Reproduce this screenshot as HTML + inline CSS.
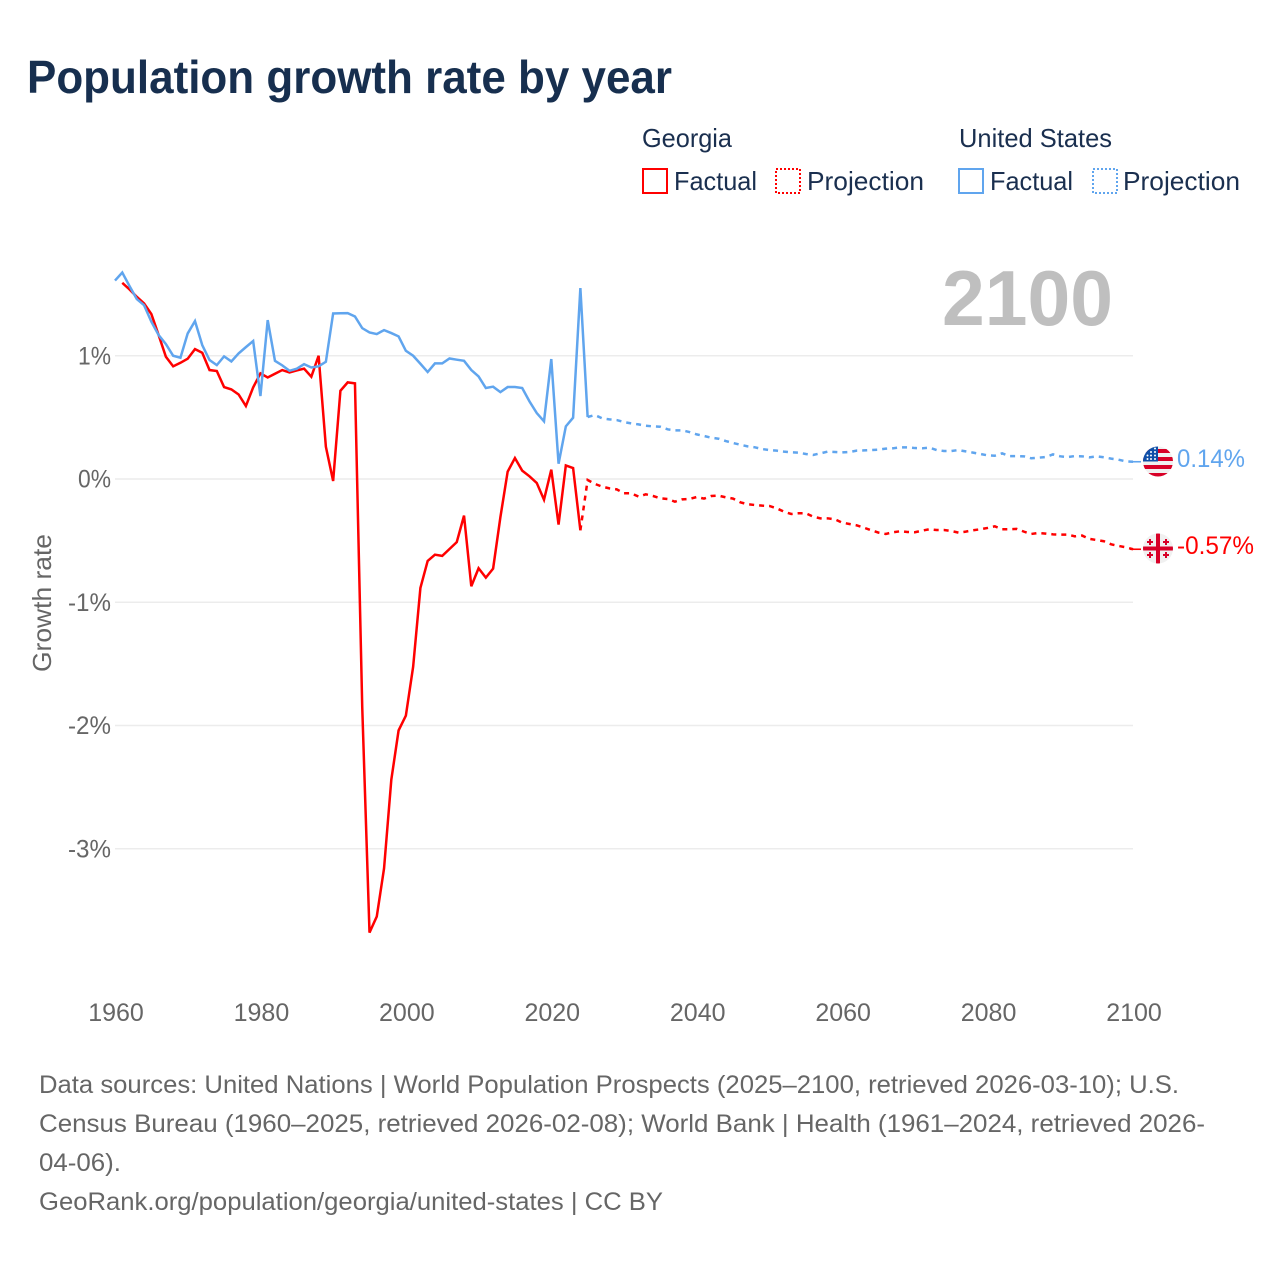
<!DOCTYPE html>
<html lang="en">
<head>
<meta charset="utf-8">
<title>Population growth rate by year</title>
<style>
html,body{margin:0;padding:0;background:#fff;width:1280px;height:1280px;overflow:hidden}
svg{display:block}
text{font-family:"Liberation Sans",sans-serif}
</style>
</head>
<body>
<svg id="chart" width="1280" height="1280" viewBox="0 0 1280 1280" xmlns="http://www.w3.org/2000/svg">
  <text x="27" y="93" font-size="46" font-weight="700" fill="#172f4f" textLength="645" lengthAdjust="spacingAndGlyphs">Population growth rate by year</text>

  <g font-size="26" fill="#1a2f4f">
    <text x="642" y="147" textLength="90" lengthAdjust="spacingAndGlyphs">Georgia</text>
    <text x="959" y="147" textLength="153" lengthAdjust="spacingAndGlyphs">United States</text>
    <rect x="643" y="169" width="24" height="24" fill="none" stroke="#ff0000" stroke-width="2"/>
    <text x="674" y="190" textLength="83" lengthAdjust="spacingAndGlyphs">Factual</text>
    <rect x="776" y="169" width="24" height="24" fill="none" stroke="#ff0000" stroke-width="2" stroke-dasharray="2 2"/>
    <text x="807" y="190" textLength="117" lengthAdjust="spacingAndGlyphs">Projection</text>
    <rect x="959" y="169" width="24" height="24" fill="none" stroke="#60a5ee" stroke-width="2"/>
    <text x="990" y="190" textLength="83" lengthAdjust="spacingAndGlyphs">Factual</text>
    <rect x="1093" y="169" width="24" height="24" fill="none" stroke="#60a5ee" stroke-width="2" stroke-dasharray="2 2"/>
    <text x="1123" y="190" textLength="117" lengthAdjust="spacingAndGlyphs">Projection</text>
  </g>

  <g id="grid"></g>
  <g id="yticks"></g>
  <g id="xticks"></g>

  <text transform="translate(51,672) rotate(-90)" font-size="26" fill="#666666" textLength="138" lengthAdjust="spacingAndGlyphs">Growth rate</text>
  <text x="942" y="325" font-size="78" font-weight="700" fill="#bfbfbf" textLength="171" lengthAdjust="spacingAndGlyphs">2100</text>

  <g id="series"></g>

  <defs>
    <clipPath id="us-clip"><circle cx="1158" cy="461.5" r="15"/></clipPath>
    <clipPath id="ge-clip"><circle cx="1158" cy="548.5" r="15"/></clipPath>
  </defs>
  <g clip-path="url(#us-clip)">
    <rect x="1143" y="446" width="30" height="31" fill="#f0f0f0"/>
    <rect x="1143" y="449" width="30" height="4" fill="#d80027"/>
    <rect x="1143" y="457" width="30" height="4" fill="#d80027"/>
    <rect x="1143" y="465" width="30" height="4" fill="#d80027"/>
    <rect x="1143" y="473" width="30" height="4" fill="#d80027"/>
    <rect x="1143" y="446" width="15" height="15.5" fill="#0f4fa8"/>
    <g fill="#ffffff">
      <circle cx="1155" cy="448.5" r="1"/><circle cx="1151" cy="452" r="1"/><circle cx="1155" cy="452" r="1"/>
      <circle cx="1147.500" cy="455.500" r="1"/><circle cx="1151" cy="455.500" r="1"/><circle cx="1155" cy="455.500" r="1"/>
      <circle cx="1147.500" cy="459" r="1"/><circle cx="1151" cy="459" r="1"/><circle cx="1155" cy="459" r="1"/>
    </g>
  </g>
  <g clip-path="url(#ge-clip)">
    <rect x="1143" y="533" width="30" height="31" fill="#f0f0f0"/>
    <rect x="1156" y="533" width="4" height="31" fill="#d80027"/>
    <rect x="1143" y="546.500" width="30" height="4" fill="#d80027"/>
    <g fill="#d80027">
      <path d="M1149 539h2v2h2v2h-2v2h-2v-2h-2v-2h2z"/>
      <path d="M1165 539h2v2h2v2h-2v2h-2v-2h-2v-2h2z"/>
      <path d="M1149 552h2v2h2v2h-2v2h-2v-2h-2v-2h2z"/>
      <path d="M1165 552h2v2h2v2h-2v2h-2v-2h-2v-2h2z"/>
    </g>
  </g>

  <text id="us-end" x="1177" y="467" font-size="25" fill="#60a5ee" textLength="68" lengthAdjust="spacingAndGlyphs"></text>
  <text id="ge-end" x="1177" y="554" font-size="25" fill="#ff0000" textLength="77" lengthAdjust="spacingAndGlyphs"></text>

  <g font-size="25" fill="#666666">
    <text x="39" y="1093" textLength="1140" lengthAdjust="spacingAndGlyphs">Data sources: United Nations | World Population Prospects (2025–2100, retrieved 2026-03-10); U.S.</text>
    <text x="39" y="1132" textLength="1166" lengthAdjust="spacingAndGlyphs">Census Bureau (1960–2025, retrieved 2026-02-08); World Bank | Health (1961–2024, retrieved 2026-</text>
    <text x="39" y="1171" textLength="82" lengthAdjust="spacingAndGlyphs">04-06).</text>
    <text x="39" y="1210" textLength="624" lengthAdjust="spacingAndGlyphs">GeoRank.org/population/georgia/united-states | CC BY</text>
  </g>
</svg>

<script>
const yTickValues = [1, 0, -1, -2, -3];
const yTickLabels = ["1%", "0%", "-1%", "-2%", "-3%"];
const xTickYears = [1960, 1980, 2000, 2020, 2040, 2060, 2080, 2100];

const usFactualStart = 1960;
const usFactual = [
  1.61, 1.675, 1.565, 1.46, 1.41, 1.276, 1.168, 1.095, 1.0, 0.984,
  1.181, 1.281, 1.086, 0.965, 0.924, 0.995, 0.954, 1.019, 1.07, 1.119,
  0.673, 1.289, 0.959, 0.922, 0.878, 0.895, 0.932, 0.905, 0.914, 0.951,
  1.343, 1.345, 1.346, 1.319, 1.224, 1.189, 1.176, 1.208, 1.184, 1.157,
  1.04, 1.0, 0.935, 0.868, 0.938, 0.938, 0.978, 0.968, 0.959, 0.884,
  0.832, 0.738, 0.749, 0.705, 0.746, 0.746, 0.738, 0.63, 0.535, 0.468,
  0.973, 0.124, 0.427, 0.497, 1.549, 0.503
];
const usProjectionStart = 2025;
const usProjection = [
  0.503, 0.519, 0.492, 0.484, 0.478, 0.462, 0.451, 0.443, 0.432, 0.427,
  0.424, 0.403, 0.395, 0.395, 0.381, 0.362, 0.349, 0.335, 0.327, 0.308,
  0.292, 0.278, 0.265, 0.257, 0.243, 0.235, 0.23, 0.222, 0.216, 0.214,
  0.203, 0.195, 0.208, 0.222, 0.219, 0.216, 0.219, 0.23, 0.232, 0.235,
  0.238, 0.246, 0.249, 0.257, 0.257, 0.251, 0.249, 0.254, 0.235, 0.227,
  0.227, 0.235, 0.224, 0.214, 0.203, 0.192, 0.189, 0.208, 0.186, 0.186,
  0.184, 0.168, 0.173, 0.178, 0.2, 0.184, 0.178, 0.186, 0.184, 0.176,
  0.184, 0.176, 0.165, 0.157, 0.143, 0.14
];
const georgiaFactualStart = 1961;
const georgiaFactual = [
  1.592, 1.538, 1.478, 1.424, 1.338, 1.168, 0.992, 0.914, 0.943,
  0.976, 1.054, 1.024, 0.884, 0.876, 0.746, 0.727, 0.686, 0.592, 0.743,
  0.857, 0.824, 0.854, 0.884, 0.865, 0.881, 0.895, 0.83, 1.0, 0.262,
  -0.016, 0.716, 0.784, 0.776, -1.85, -3.68, -3.55, -3.16, -2.44, -2.04,
  -1.92, -1.524, -0.884, -0.665, -0.614, -0.624, -0.568, -0.512, -0.297, -0.87,
  -0.724, -0.8, -0.727, -0.31, 0.06, 0.17, 0.068, 0.022, -0.032, -0.168,
  0.076, -0.37, 0.11, 0.089, -0.416
];
const georgiaProjectionStart = 2024;
const georgiaProjection = [
  -0.416, -0.008, -0.04, -0.062, -0.076, -0.084, -0.116, -0.116, -0.143, -0.124,
  -0.138, -0.157, -0.162, -0.184, -0.165, -0.162, -0.146, -0.159, -0.138, -0.135,
  -0.149, -0.159, -0.189, -0.205, -0.211, -0.216, -0.219, -0.238, -0.265, -0.284,
  -0.278, -0.278, -0.305, -0.319, -0.319, -0.327, -0.354, -0.365, -0.376, -0.395,
  -0.416, -0.435, -0.446, -0.432, -0.424, -0.43, -0.432, -0.419, -0.408, -0.414,
  -0.414, -0.422, -0.435, -0.427, -0.416, -0.408, -0.397, -0.384, -0.408, -0.408,
  -0.405, -0.427, -0.446, -0.438, -0.443, -0.449, -0.451, -0.451, -0.465, -0.459,
  -0.486, -0.495, -0.505, -0.53, -0.543, -0.554, -0.57
];
const usEndLabel = "0.14%";
const georgiaEndLabel = "-0.57%";

const SVG_NS = "http://www.w3.org/2000/svg";
function xScale(year) { return 115 + (year - 1960) * (1133 - 115) / 140; }
function yScale(value) { return 479 - value * 123.25; }
function pathFrom(startYear, values) {
  return values.map(function (v, i) {
    return (i ? "L" : "M") + xScale(startYear + i).toFixed(2) + " " + yScale(v).toFixed(2);
  }).join("");
}

const gridGroup = document.getElementById("grid");
const yGroup = document.getElementById("yticks");
yTickValues.forEach(function (v, i) {
  const line = document.createElementNS(SVG_NS, "line");
  
  
  line.setAttribute("x1", xScale(1960));
  line.setAttribute("x2", xScale(2100));
  line.setAttribute("y1", yScale(v));
  line.setAttribute("y2", yScale(v));
  line.setAttribute("stroke", "#ececec");
  line.setAttribute("stroke-width", "1.5");
  gridGroup.appendChild(line);

  const label = document.createElementNS(SVG_NS, "text");
  
  
  label.setAttribute("x", 111);
  label.setAttribute("y", yScale(v) + 8.5);
  label.setAttribute("text-anchor", "end");
  label.setAttribute("font-size", "25");
  label.setAttribute("fill", "#666666");
  label.setAttribute("textLength", yTickLabels[i].charAt(0) === "-" ? 43 : 33);
  label.setAttribute("lengthAdjust", "spacingAndGlyphs");
  label.textContent = yTickLabels[i];
  yGroup.appendChild(label);
});

const xGroup = document.getElementById("xticks");
xTickYears.forEach(function (year) {
  const label = document.createElementNS(SVG_NS, "text");
  
  
  label.setAttribute("x", xScale(year) + 1);
  label.setAttribute("y", 1021);
  label.setAttribute("text-anchor", "middle");
  label.setAttribute("font-size", "25");
  label.setAttribute("fill", "#666666");
  label.textContent = String(year);
  xGroup.appendChild(label);
});

const seriesGroup = document.getElementById("series");

const georgiaFactualLine = document.createElementNS(SVG_NS, "path");


georgiaFactualLine.setAttribute("d", pathFrom(georgiaFactualStart, georgiaFactual));
georgiaFactualLine.setAttribute("fill", "none");
georgiaFactualLine.setAttribute("stroke", "#ff0000");
georgiaFactualLine.setAttribute("stroke-width", "2.5");
seriesGroup.appendChild(georgiaFactualLine);

const georgiaProjectionLine = document.createElementNS(SVG_NS, "path");


georgiaProjectionLine.setAttribute("d", pathFrom(georgiaProjectionStart, georgiaProjection));
georgiaProjectionLine.setAttribute("fill", "none");
georgiaProjectionLine.setAttribute("stroke", "#ff0000");
georgiaProjectionLine.setAttribute("stroke-width", "2.5");
georgiaProjectionLine.setAttribute("stroke-dasharray", "5 5");
seriesGroup.appendChild(georgiaProjectionLine);

const usFactualLine = document.createElementNS(SVG_NS, "path");


usFactualLine.setAttribute("d", pathFrom(usFactualStart, usFactual));
usFactualLine.setAttribute("fill", "none");
usFactualLine.setAttribute("stroke", "#60a5ee");
usFactualLine.setAttribute("stroke-width", "2.5");
seriesGroup.appendChild(usFactualLine);

const usProjectionLine = document.createElementNS(SVG_NS, "path");


usProjectionLine.setAttribute("d", pathFrom(usProjectionStart, usProjection));
usProjectionLine.setAttribute("fill", "none");
usProjectionLine.setAttribute("stroke", "#60a5ee");
usProjectionLine.setAttribute("stroke-width", "2.5");
usProjectionLine.setAttribute("stroke-dasharray", "5 5");
seriesGroup.appendChild(usProjectionLine);

const usLeader = document.createElementNS(SVG_NS, "line");


usLeader.setAttribute("x1", xScale(2100) - 3);
usLeader.setAttribute("x2", xScale(2100) + 8);
usLeader.setAttribute("y1", yScale(usProjection[usProjection.length - 1]));
usLeader.setAttribute("y2", yScale(usProjection[usProjection.length - 1]));
usLeader.setAttribute("stroke", "#60a5ee");
usLeader.setAttribute("stroke-width", "1.6");
seriesGroup.appendChild(usLeader);

const georgiaLeader = document.createElementNS(SVG_NS, "line");


georgiaLeader.setAttribute("x1", xScale(2100) - 3);
georgiaLeader.setAttribute("x2", xScale(2100) + 8);
georgiaLeader.setAttribute("y1", yScale(georgiaProjection[georgiaProjection.length - 1]));
georgiaLeader.setAttribute("y2", yScale(georgiaProjection[georgiaProjection.length - 1]));
georgiaLeader.setAttribute("stroke", "#ff0000");
georgiaLeader.setAttribute("stroke-width", "1.6");
seriesGroup.appendChild(georgiaLeader);

document.getElementById("us-end").textContent = usEndLabel;
document.getElementById("ge-end").textContent = georgiaEndLabel;
</script>
</body>
</html>
